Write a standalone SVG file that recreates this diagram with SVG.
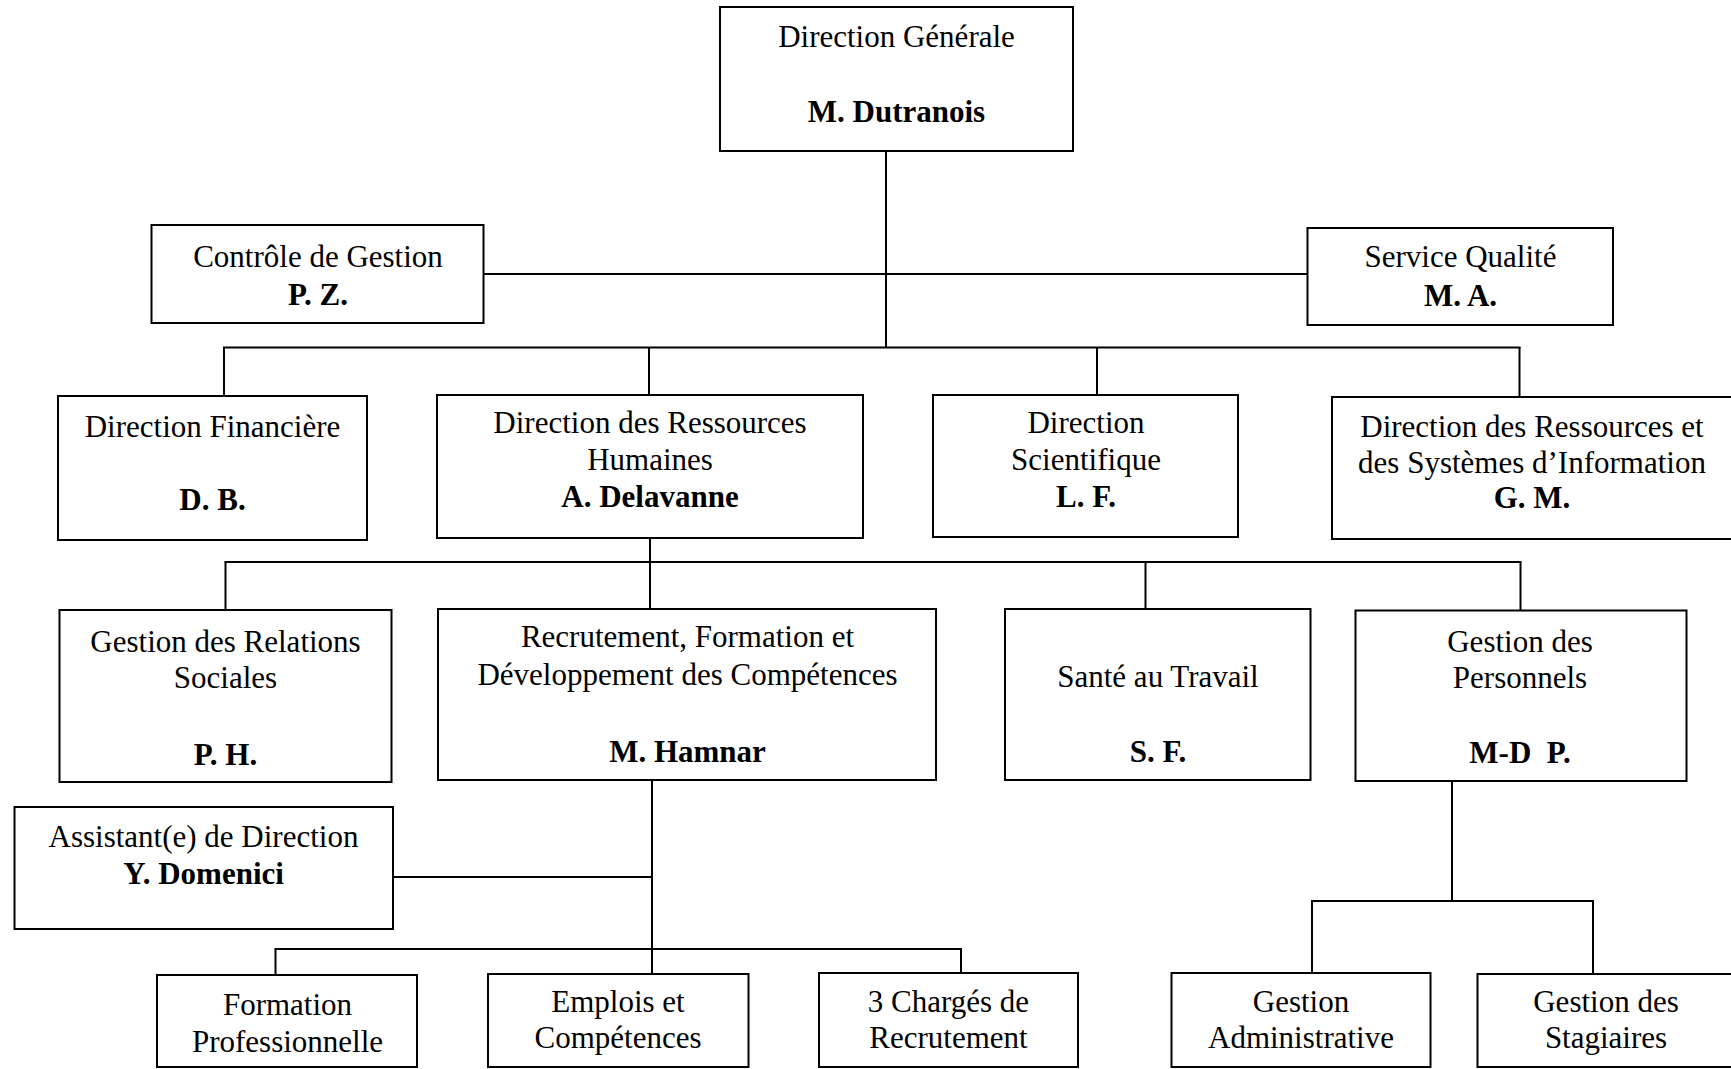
<svg xmlns="http://www.w3.org/2000/svg" width="1731" height="1069" viewBox="0 0 1731 1069">
<style>
rect.box{fill:#fff;stroke:#000;stroke-width:2}
#connectors line{stroke:#000;stroke-width:2;fill:none}
text{font-family:"Liberation Serif","Times New Roman",serif;font-size:31px;fill:#000;text-anchor:middle}
text.b{font-weight:bold}
</style>
<rect width="1731" height="1069" fill="#fff"/>
<g id="connectors">
<line x1="886" y1="151" x2="886" y2="348"/>
<line x1="484" y1="274" x2="1307" y2="274"/>
<line x1="223" y1="347.5" x2="1520.5" y2="347.5"/>
<line x1="224" y1="347" x2="224" y2="396"/>
<line x1="649" y1="347" x2="649" y2="395"/>
<line x1="1097" y1="347" x2="1097" y2="395"/>
<line x1="1519.5" y1="347" x2="1519.5" y2="397"/>
<line x1="650" y1="538" x2="650" y2="609"/>
<line x1="224.5" y1="562" x2="1521.5" y2="562"/>
<line x1="225.5" y1="562" x2="225.5" y2="610"/>
<line x1="1145.5" y1="562" x2="1145.5" y2="609"/>
<line x1="1520.5" y1="562" x2="1520.5" y2="610"/>
<line x1="652" y1="780" x2="652" y2="974"/>
<line x1="393" y1="877" x2="652" y2="877"/>
<line x1="274.5" y1="949" x2="962" y2="949"/>
<line x1="275.5" y1="949" x2="275.5" y2="975"/>
<line x1="961" y1="949" x2="961" y2="973"/>
<line x1="1452" y1="781" x2="1452" y2="901"/>
<line x1="1311" y1="901" x2="1594" y2="901"/>
<line x1="1312" y1="901" x2="1312" y2="973"/>
<line x1="1593" y1="901" x2="1593" y2="974"/>
</g>
<g id="dg">
<rect class="box" x="720" y="7" width="353" height="144"/>
<text x="896.5" y="47">Direction Générale</text>
<text class="b" x="896.5" y="122">M. Dutranois</text>
</g>
<g id="cg">
<rect class="box" x="151.5" y="225" width="332" height="98"/>
<text x="318" y="267">Contrôle de Gestion</text>
<text class="b" x="318" y="305">P. Z.</text>
</g>
<g id="sq">
<rect class="box" x="1307.5" y="228" width="305.5" height="97"/>
<text x="1460.5" y="267">Service Qualité</text>
<text class="b" x="1460.5" y="306">M. A.</text>
</g>
<g id="df">
<rect class="box" x="58" y="396" width="309" height="144"/>
<text x="212.5" y="437">Direction Financière</text>
<text class="b" x="212.5" y="510">D. B.</text>
</g>
<g id="drh">
<rect class="box" x="437" y="395" width="426" height="143"/>
<text x="650" y="433">Direction des Ressources</text>
<text x="650" y="470">Humaines</text>
<text class="b" x="650" y="507">A. Delavanne</text>
</g>
<g id="ds">
<rect class="box" x="933" y="395" width="305" height="142"/>
<text x="1086" y="433">Direction</text>
<text x="1086" y="470">Scientifique</text>
<text class="b" x="1086" y="507">L. F.</text>
</g>
<g id="drsi">
<rect class="box" x="1332" y="397" width="402" height="142"/>
<text x="1532" y="437">Direction des Ressources et</text>
<text x="1532" y="473">des Systèmes d’Information</text>
<text class="b" x="1532" y="508">G. M.</text>
</g>
<g id="grs">
<rect class="box" x="59.5" y="610" width="332" height="172"/>
<text x="225.5" y="652">Gestion des Relations</text>
<text x="225.5" y="688">Sociales</text>
<text class="b" x="225.5" y="765">P. H.</text>
</g>
<g id="rfdc">
<rect class="box" x="438" y="609" width="498" height="171"/>
<text x="687.5" y="647">Recrutement, Formation et</text>
<text x="687.5" y="685">Développement des Compétences</text>
<text class="b" x="687.5" y="762">M. Hamnar</text>
</g>
<g id="sante">
<rect class="box" x="1005" y="609" width="305.5" height="171"/>
<text x="1158" y="687">Santé au Travail</text>
<text class="b" x="1158" y="762">S. F.</text>
</g>
<g id="gdp">
<rect class="box" x="1355.5" y="610.5" width="331" height="170.5"/>
<text x="1520" y="652">Gestion des</text>
<text x="1520" y="688">Personnels</text>
<text class="b" x="1520" y="763" xml:space="preserve">M-D  P.</text>
</g>
<g id="assistant">
<rect class="box" x="14.5" y="807" width="378.5" height="122"/>
<text x="203.5" y="847">Assistant(e) de Direction</text>
<text class="b" x="203.5" y="884">Y. Domenici</text>
</g>
<g id="fp">
<rect class="box" x="157" y="975" width="260" height="92"/>
<text x="287.5" y="1015">Formation</text>
<text x="287.5" y="1052">Professionnelle</text>
</g>
<g id="ec">
<rect class="box" x="488" y="974" width="260.5" height="93"/>
<text x="618" y="1012">Emplois et</text>
<text x="618" y="1048">Compétences</text>
</g>
<g id="cr">
<rect class="box" x="819" y="973" width="259" height="94"/>
<text x="948.5" y="1012">3 Chargés de</text>
<text x="948.5" y="1048">Recrutement</text>
</g>
<g id="ga">
<rect class="box" x="1171.5" y="973" width="259" height="94"/>
<text x="1301" y="1012">Gestion</text>
<text x="1301" y="1048">Administrative</text>
</g>
<g id="gs">
<rect class="box" x="1477.5" y="974" width="258" height="93"/>
<text x="1606" y="1012">Gestion des</text>
<text x="1606" y="1048">Stagiaires</text>
</g>
</svg>
